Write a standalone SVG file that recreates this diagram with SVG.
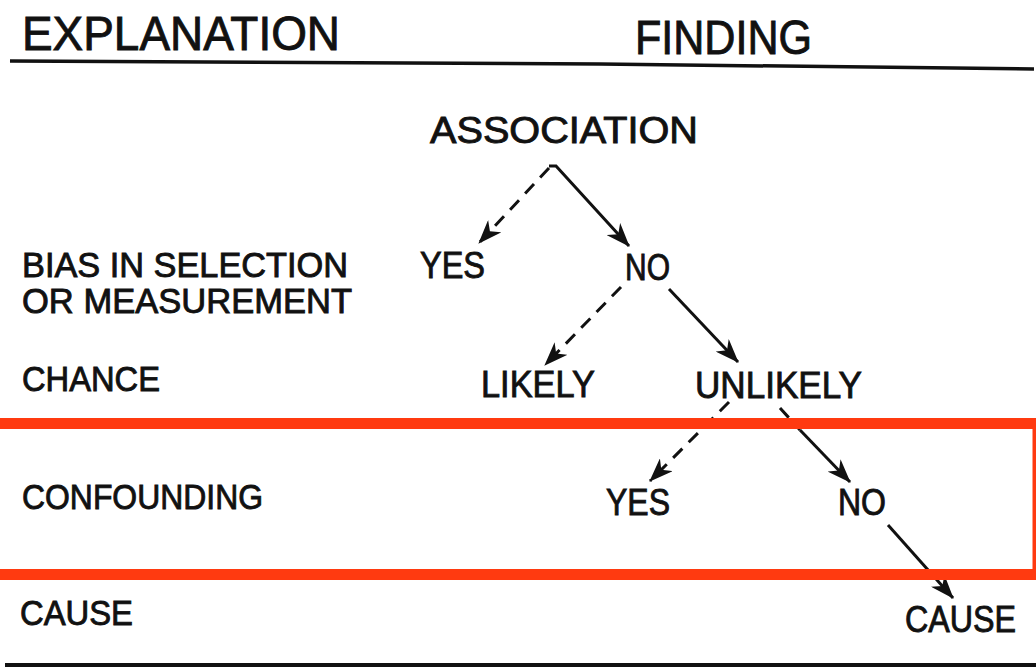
<svg xmlns="http://www.w3.org/2000/svg" width="1036" height="668" viewBox="0 0 1036 668">
<style>
  text { font-family: "Liberation Sans", Arial, sans-serif; fill: #111; stroke: #111; stroke-width: 0.9; }
  .h { font-size: 48px; }
  .t { font-size: 37px; }
  .s { font-size: 35px; }
  .c { stroke: #111; stroke-width: 3; fill: none; }
  .d { stroke-dasharray: 13 9; }
</style>
<defs>
  <marker id="ah" viewBox="0 0 24 18" refX="23" refY="9" markerWidth="24" markerHeight="18" markerUnits="userSpaceOnUse" orient="auto">
    <path d="M0,0 L24,9 L0,18 L7,9 Z" fill="#111"/>
  </marker>
</defs>
<rect width="1036" height="668" fill="#fff" stroke="none"/>
<g id="headers">
  <text class="h" x="22" y="50" textLength="318" lengthAdjust="spacingAndGlyphs">EXPLANATION</text>
  <text class="h" x="635" y="54" textLength="177" lengthAdjust="spacingAndGlyphs">FINDING</text>
  <path d="M10 61 L600 64 L1034 69" stroke="#111" stroke-width="3.5" fill="none"/>
  <path d="M5 665 L1036 665" stroke="#111" stroke-width="4" fill="none"/>
</g>
<g id="row-labels">
  <text class="s" x="22" y="277" textLength="326" lengthAdjust="spacingAndGlyphs">BIAS IN SELECTION</text>
  <text class="s" x="22" y="313" textLength="330" lengthAdjust="spacingAndGlyphs">OR MEASUREMENT</text>
  <text class="s" x="22" y="391" textLength="138" lengthAdjust="spacingAndGlyphs">CHANCE</text>
  <text class="s" x="22" y="509" textLength="241" lengthAdjust="spacingAndGlyphs">CONFOUNDING</text>
  <text class="s" x="20" y="625" textLength="113" lengthAdjust="spacingAndGlyphs">CAUSE</text>
</g>
<g id="association"><text class="t" x="430" y="143" textLength="268" lengthAdjust="spacingAndGlyphs">ASSOCIATION</text></g>
<g id="bias-yes"><text class="t" x="420" y="278" textLength="65" lengthAdjust="spacingAndGlyphs">YES</text></g>
<g id="bias-no"><text class="t" x="625" y="280" textLength="45" lengthAdjust="spacingAndGlyphs">NO</text></g>
<g id="chance-likely"><text class="t" x="481" y="397" textLength="114" lengthAdjust="spacingAndGlyphs">LIKELY</text></g>
<g id="chance-unlikely"><text class="t" x="695" y="398" textLength="167" lengthAdjust="spacingAndGlyphs">UNLIKELY</text></g>
<g id="conf-yes"><text class="t" x="606" y="515" textLength="64" lengthAdjust="spacingAndGlyphs">YES</text></g>
<g id="conf-no"><text class="t" x="838" y="515" textLength="48" lengthAdjust="spacingAndGlyphs">NO</text></g>
<g id="cause"><text class="t" x="905" y="632" textLength="111" lengthAdjust="spacingAndGlyphs">CAUSE</text></g>
<g id="connectors">
  <path class="c d" d="M549 168 L479 243" marker-end="url(#ah)"/>
  <path class="c" d="M549 166 L556 166 L629 246" marker-end="url(#ah)"/>
  <path class="c d" d="M621 287 L545 365" marker-end="url(#ah)"/>
  <path class="c" d="M669 289 L738 362" marker-end="url(#ah)"/>
  <path class="c d" d="M729 402 L650 481" marker-end="url(#ah)"/>
  <path class="c d" d="M780 408 L800 430"/>
  <path class="c" d="M800 430 L850 482" marker-end="url(#ah)"/>
  <path class="c" d="M888 525 L953 598" marker-end="url(#ah)"/>
</g>
<g id="highlight">
  <rect x="-10" y="423.5" width="1048" height="151" fill="none" stroke="#ff3a10" stroke-width="11"/>
</g>
</svg>
